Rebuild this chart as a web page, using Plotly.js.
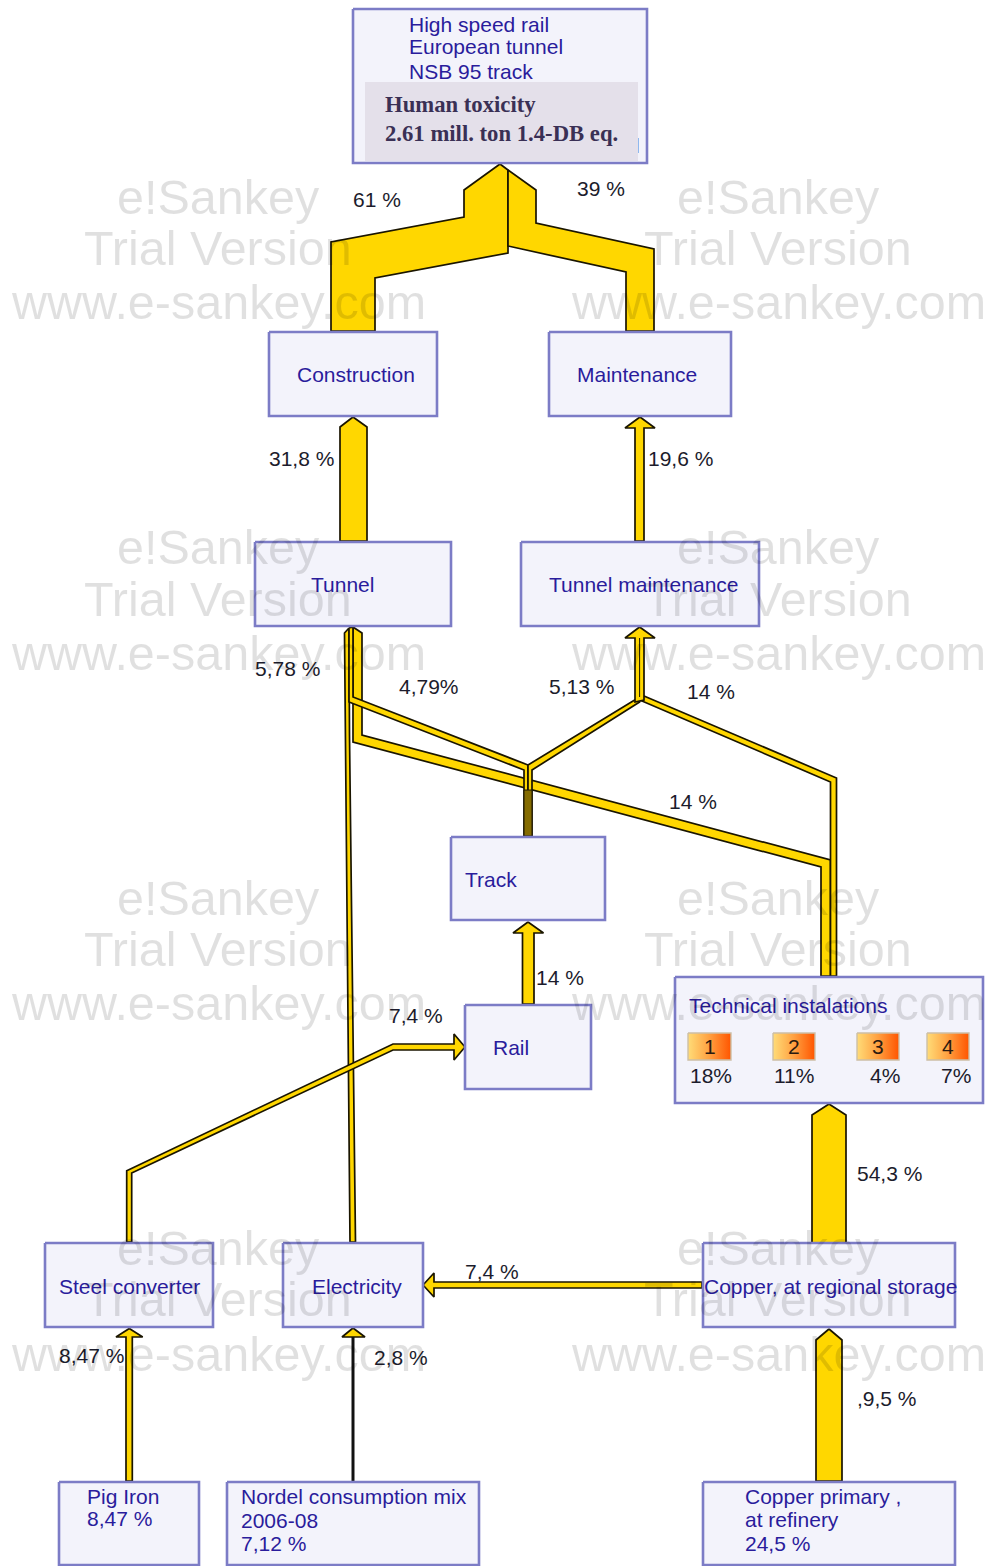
<!DOCTYPE html>
<html><head><meta charset="utf-8">
<script src="https://cdn.plot.ly/plotly-3.0.1.min.js"></script>
<style>html,body{margin:0;padding:0;background:#fff}</style></head>
<body><div id="chart" style="width:989px;height:1566px"></div>
<script>
// ---- process boxes (text first, geometry kept apart)
const nodeNames = ["Top","Construction","Maintenance","Tunnel","Tunnel maintenance","Track","Rail","Technical instalations","Steel converter","Electricity","Copper, at regional storage","Pig Iron","Nordel consumption mix","Copper primary"];
const nodeLeft   = [353,269,549,255,521,451,465,675,45,283,703,59,227,703];
const nodeRight  = [647,437,731,451,759,605,591,983,213,423,955,199,479,955];
const nodeTop    = [9,332,332,542,542,837,1005,977,1243,1243,1243,1482,1482,1482];
const nodeBottom = [163,416,416,626,626,920,1089,1103,1327,1327,1327,1565,1565,1565];

// ---- flows: outline of each band
const flow61X = [500,464,464,331,331,375,375,508,508];
const flow61Y = [164,190,217,242,331,331,278,253,170];
const flow39X = [508,536,536,654,654,626,626,508];
const flow39Y = [170,190,223,249,331,331,272,246];
const flow318X = [353,367,367,340,340];
const flow318Y = [417,427,541,541,427];
const flow196X = [640,655,644,644,635,635,625];
const flow196Y = [417,428,428,541,541,428,428];
const flow14wideX = [353,362,362,830.5,830.5,821,821,353];
const flow14wideY = [627,633,735,860,976,976,867,742];
const flow578X = [349,349.5,355.5,350,344.5];
const flow578Y = [628,735,1242,1242,633];
const flow479X = [349,353,353,528,528,524,524,349];
const flow479Y = [628,627,697,765,836,836,770,702];
const flow513X = [639.6,639.6,532,532,528,528];
const flow513Y = [697,702,770,836,836,765];
const flow14rightX = [644,836.5,836.5,830.5,830.5,639.6,639.6,644];
const flow14rightY = [696,778,976,976,782,700,697,696];
const flowJoinX = [639.6,655,644,644,635,635,625];
const flowJoinY = [627,638,638,700,702,638,638];
const flowRailX = [528,543.5,534,534,522.5,522.5,513];
const flowRailY = [922,933,933,1004,1004,933,933];
const flow543X = [829,846,846,812,812];
const flow543Y = [1104,1115,1243,1243,1115];
const flow95X = [829,842,842,816,816];
const flow95Y = [1329,1340,1481,1481,1340];
const flowCopperElX = [423,434,434,702,702,434,434];
const flowCopperElY = [1285,1273,1282,1282,1288,1288,1297];
const flowSteelX = [465,454,454,393,131.7,131.7,126.7,126.7,393,454,454];
const flowSteelY = [1047,1060,1050,1050,1173,1242,1242,1170.7,1044,1044,1034];
const flowPigX = [129.3,142.7,132.3,132.3,126,126,116];
const flowPigY = [1328.5,1337,1337,1481,1481,1337,1337];
const flowNordelHeadX = [353,365,342];
const flowNordelHeadY = [1328,1337,1337];
const flowNordelStemX = [353,353];
const flowNordelStemY = [1337,1481];
const flowTrackStemX = [524,532,532,524];
const flowTrackStemY = [790,790,836,836];

// ---- texts
const boxTexts = ["High speed rail","European tunnel","NSB 95 track","Construction","Maintenance","Tunnel","Tunnel maintenance","Track","Rail","Technical instalations","Steel converter","Electricity","Copper, at regional storage","Pig Iron","8,47 %","Nordel consumption mix","2006-08","7,12 %","Copper primary ,","at refinery","24,5 %"];
const boxTextX = [408,408,408,296,576,310,548,464,492,688,58,311,703,86,86,240,240,240,744,744,744];
const boxTextY = [24,46,71,374,374,584,584,879,1047,1005,1286,1286,1286,1496,1518,1496,1520,1543,1496,1519,1543];
const flowTexts = ["61 %","39 %","31,8 %","19,6 %","5,78 %","4,79%","5,13 %","14 %","14 %","14 %","7,4 %","54,3 %","7,4 %","8,47 %","2,8 %",",9,5 %"];
const flowTextX = [352,576,268,647,254,398,548,686,668,535,388,856,464,58,373,856];
const flowTextY = [199,188,458,458,668,686,686,691,801,977,1015,1173,1271,1355,1357,1398];
const badgeLabels = ["1","2","3","4"];
const badgeShares = ["18%","11%","4%","7%"];
const badgeLeft = [688,773,857,927];
const badgeRight = [731,815,899,969];
const badgeShareX = [689,773,869,940];
const headline = ["Human toxicity","2.61 mill. ton 1.4-DB eq."];
const headlineY = [104,133];
const wmLines = ["e!Sankey","Trial Version","www.e-sankey.com"];
const wmColumns = [218,778];
const wmRowY = [[197,248,302],[547,599,653],[898,949,1003],[1248,1299,1354]];

// ---- drawing
const GOLD="#FFD700", EDGE="#1a1500";
function poly(x,y,fill,line,w){
  return {type:"scatter",mode:"lines",x:x.concat(x[0]),y:y.concat(y[0]),fill:"toself",fillcolor:fill,
    line:{color:line,width:w,shape:"linear"},hoverinfo:"skip",showlegend:false};
}
const flowList=[[flow61X,flow61Y],[flow39X,flow39Y],[flow318X,flow318Y],[flow196X,flow196Y],
 [flow14wideX,flow14wideY],[flow578X,flow578Y],[flow479X,flow479Y],[flow513X,flow513Y],[flow14rightX,flow14rightY],
 [flowJoinX,flowJoinY],[flowRailX,flowRailY],[flow543X,flow543Y],[flow95X,flow95Y],[flowCopperElX,flowCopperElY],
 [flowSteelX,flowSteelY],[flowPigX,flowPigY],[flowNordelHeadX,flowNordelHeadY]];
const traces=[];
flowList.forEach(f=>traces.push(poly(f[0],f[1],GOLD,EDGE,1.7)));
traces.push(poly(flowTrackStemX,flowTrackStemY,"#856C00",EDGE,1));
traces.push({type:"scatter",mode:"lines",x:flowNordelStemX,y:flowNordelStemY,line:{color:"#111",width:3},hoverinfo:"skip",showlegend:false});
// split of the join into its two source bands
traces.push({type:"scatter",mode:"lines",x:[639.6,639.6],y:[638,697],line:{color:EDGE,width:1},hoverinfo:"skip",showlegend:false});
nodeNames.forEach((n,i)=>{
  const L=nodeLeft[i],R=nodeRight[i],T=nodeTop[i],B=nodeBottom[i];
  traces.push(poly([L,R,R,L],[T,T,B,B],"#F3F3FB","#7C7CC6",2.6));
});
// inner grey panel
traces.push(poly([365,638,638,365],[82,82,161,161],"#E4E0EA","#E4E0EA",0));
traces.push({type:"scatter",mode:"lines",x:[638.5,638.5],y:[138,153],line:{color:"#8fb8ee",width:1},hoverinfo:"skip",showlegend:false});
// badges
badgeLabels.forEach((b,i)=>{
  const L=badgeLeft[i],R=badgeRight[i];
  const t=poly([L,R,R,L],[1033,1033,1060,1060],GOLD,"#CDBFA6",1.4);
  delete t.fillcolor;
  t.fillgradient={type:"horizontal",colorscale:[[0,"#FFDC78"],[0.5,"#FFA040"],[1,"#FF5500"]]};
  traces.push(t);
});

const anns=[];
const FONT="Liberation Sans, Arial, sans-serif";
function txt(s,x,y,color,size,anchor,family){
  anns.push({text:s,x:x,y:y,xref:"x",yref:"y",showarrow:false,xanchor:anchor||"left",yanchor:"middle",
    align:"left",borderpad:0,font:{family:family||FONT,size:size,color:color}});
}
boxTexts.forEach((s,i)=>txt(s,boxTextX[i],boxTextY[i],"#2A1C9C",21));
flowTexts.forEach((s,i)=>txt(s,flowTextX[i],flowTextY[i],"#1c1c2c",21));
badgeLabels.forEach((s,i)=>txt(s,(badgeLeft[i]+badgeRight[i])/2,1046,"#2a1a10",21,"center"));
badgeShares.forEach((s,i)=>txt(s,badgeShareX[i],1075,"#1c1c2c",21));
headline.forEach((s,i)=>txt("<b>"+s+"</b>",384,headlineY[i],"#3A3055",22.7,"left","Liberation Serif, serif"));
wmColumns.forEach(cx=>wmRowY.forEach(r=>wmLines.forEach((s,i)=>txt(s,cx,r[i],"rgba(0,0,0,0.12)",48.5,"center"))));

Plotly.newPlot("chart",traces,{
  width:989,height:1566,margin:{l:0,r:0,t:0,b:0},paper_bgcolor:"#fff",plot_bgcolor:"#fff",showlegend:false,
  xaxis:{range:[0,989],visible:false,fixedrange:true},
  yaxis:{range:[1566,0],visible:false,fixedrange:true},
  annotations:anns
},{displayModeBar:false,staticPlot:true});
</script></body></html>
